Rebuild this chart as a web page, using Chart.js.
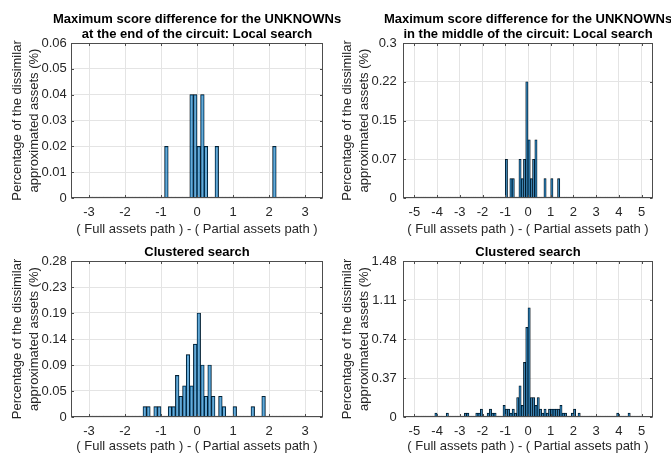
<!DOCTYPE html>
<html>
<head>
<meta charset="utf-8">
<script src="https://cdn.jsdelivr.net/npm/chart.js@4.4.0/dist/chart.umd.min.js"></script>
<style>
  html, body { margin: 0; padding: 0; background: #fff; width: 671px; height: 454px; overflow: hidden; position: relative; }
  canvas { position: absolute; }
</style>
</head>
<body>
<canvas id="end-local" width="394" height="237" style="left:0;top:0;width:394px;height:237px"></canvas>
<canvas id="mid-local" width="386" height="237" style="left:335px;top:0;width:386px;height:237px"></canvas>
<canvas id="end-cluster" width="394" height="227" style="left:0;top:227px;width:394px;height:227px"></canvas>
<canvas id="mid-cluster" width="386" height="227" style="left:335px;top:227px;width:386px;height:227px"></canvas>
<script>
// ========================================
// Data
// bins are 0.1 wide, listed by their left edge; empty bins are 0
// ========================================
const BIN_WIDTH = 0.1;

// top left: end of the circuit, local search
const endLocalRange = [-3, 3];
const endLocalBins = [-0.9, -0.2, -0.1, 0.0, 0.1, 0.2, 0.5, 2.1];
const endLocalPct  = [0.02, 0.04, 0.04, 0.02, 0.04, 0.02, 0.02, 0.02];
const endLocalYTicks  = [0, 0.01, 0.02, 0.03, 0.04, 0.05, 0.06];
const endLocalYLabels = ['0', '0.01', '0.02', '0.03', '0.04', '0.05', '0.06'];

// top right: middle of the circuit, local search
const midLocalRange = [-5, 5];
const midLocalBins = [-1.0, -0.8, -0.7, -0.4, -0.3, -0.2, -0.1, 0.0, 0.1, 0.2, 0.3, 0.7, 1.0, 1.3];
const midLocalPct  = [0.075, 0.0375, 0.0375, 0.075, 0.0375, 0.075, 0.225, 0.1125, 0.0375, 0.075, 0.1125, 0.0375, 0.0375, 0.0375];
const midLocalYTicks  = [0, 0.075, 0.15, 0.225, 0.3];
const midLocalYLabels = ['0', '0.07', '0.15', '0.22', '0.3'];

// bottom left: end of the circuit, clustered search
const endClusterRange = [-3, 3];
const endClusterBins = [-1.5, -1.4, -1.2, -1.1, -0.8, -0.7, -0.6, -0.5, -0.4, -0.3, -0.2, -0.1,
                        0.0, 0.1, 0.2, 0.3, 0.4, 0.6, 0.7, 1.0, 1.5, 1.8];
const endClusterPct  = [0.0187, 0.0187, 0.0187, 0.0187, 0.0187, 0.0187, 0.0747, 0.0373, 0.056, 0.112, 0.056, 0.1307,
                        0.1867, 0.0933, 0.0373, 0.0933, 0.0373, 0.0373, 0.0187, 0.0187, 0.0187, 0.0373];
const endClusterYTicks  = [0, 0.0467, 0.0933, 0.14, 0.1867, 0.2333, 0.28];
const endClusterYLabels = ['0', '0.05', '0.09', '0.14', '0.19', '0.23', '0.28'];

// bottom right: middle of the circuit, clustered search
const midClusterRange = [-5, 5];
const midClusterBins = [-4.1, -3.6, -2.8, -2.7, -2.3, -2.2, -2.1, -1.8, -1.7, -1.6, -1.5,
                        -1.1, -1.0, -0.9, -0.8, -0.7, -0.6, -0.5, -0.4, -0.3, -0.2, -0.1,
                        0.0, 0.1, 0.2, 0.3, 0.4, 0.5, 0.6, 0.7, 0.8, 0.9, 1.0,
                        1.1, 1.2, 1.3, 1.4, 1.5, 1.6, 1.9, 2.0, 2.2, 3.9, 4.4];
const midClusterPct  = [0.037, 0.037, 0.037, 0.037, 0.037, 0.037, 0.074, 0.037, 0.074, 0.037, 0.037,
                        0.111, 0.074, 0.074, 0.037, 0.074, 0.037, 0.185, 0.296, 0.111, 0.518, 0.851,
                        1.036, 0.185, 0.185, 0.111, 0.185, 0.074, 0.037, 0.074, 0.037, 0.074, 0.074,
                        0.074, 0.074, 0.074, 0.111, 0.037, 0.037, 0.037, 0.074, 0.037, 0.037, 0.037];
const midClusterYTicks  = [0, 0.37, 0.74, 1.11, 1.48];
const midClusterYLabels = ['0', '0.37', '0.74', '1.11', '1.48'];

const xTicksNarrow = [-3, -2, -1, 0, 1, 2, 3];
const xTicksWide   = [-5, -4, -3, -2, -1, 0, 1, 2, 3, 4, 5];

const xTitle = '( Full assets path ) - ( Partial assets path )';
const yTitle = ['Percentage of the dissimilar', 'approximated assets (%)'];

// ========================================
// Styling
// ========================================
Chart.defaults.font.family = "'Liberation Sans', Arial, Helvetica, sans-serif";
Chart.defaults.font.size = 13;

const colors = {
    barFill: 'rgba(0, 114, 189, 0.6)',
    barEdge: '#000000',
    grid: '#e4e4e4',
    axis: '#4d4d4d',
    text: '#262626',
    title: '#000000'
};

// build the full table of bins (empty ones as 0) from the listed ones
function histogram(range, bins, pct) {
    const n = Math.round((range[1] - range[0]) / BIN_WIDTH);
    const rows = [];
    for (let i = 0; i < n; i++) {
        const left = range[0] + i * BIN_WIDTH;
        const j = bins.findIndex(b => Math.abs(b - left) < 1e-6);
        rows.push({ x: left + BIN_WIDTH / 2, y: j >= 0 ? pct[j] : 0 });
    }
    return rows;
}

// box round the axes with small inward tick marks (matlab style)
const boxPlugin = {
    id: 'axesBox',
    afterDatasetsDraw(chart) {
        const { ctx, chartArea: a, scales } = chart;
        const L = Math.round(a.left) + 0.5, R = Math.round(a.right) - 0.5;
        const T = Math.round(a.top) + 0.5, B = Math.round(a.bottom) - 0.5;
        const len = 2.5;
        ctx.save();
        ctx.strokeStyle = colors.axis;
        ctx.lineWidth = 1;
        ctx.strokeRect(L, T, R - L, B - T);
        ctx.beginPath();
        scales.x.ticks.forEach(t => {
            const px = Math.round(scales.x.getPixelForValue(t.value)) + 0.5;
            ctx.moveTo(px, B); ctx.lineTo(px, B - len);
            ctx.moveTo(px, T); ctx.lineTo(px, T + len);
        });
        scales.y.ticks.forEach(t => {
            const py = Math.round(scales.y.getPixelForValue(t.value)) + 0.5;
            ctx.moveTo(L, py); ctx.lineTo(L + len, py);
            ctx.moveTo(R, py); ctx.lineTo(R - len, py);
        });
        ctx.stroke();
        ctx.restore();
    }
};

function createPanel(id, p) {
    const ctx = document.getElementById(id);
    return new Chart(ctx, {
        type: 'bar',
        data: {
            datasets: [{
                data: histogram(p.range, p.bins, p.pct),
                backgroundColor: colors.barFill,
                borderColor: colors.barEdge,
                borderWidth: 0.5,
                borderSkipped: 'start',
                minBarLength: 1,
                barPercentage: 1,
                categoryPercentage: 1
            }]
        },
        options: {
            responsive: false,
            animation: false,
            events: [],
            layout: { padding: 0 },
            plugins: {
                legend: { display: false },
                tooltip: { enabled: false },
                title: {
                    display: true,
                    text: p.title,
                    color: colors.title,
                    font: { size: 13, weight: 'bold', lineHeight: 15 / 13 },
                    padding: { top: p.titleTop, bottom: p.titleBottom }
                }
            },
            scales: {
                x: {
                    type: 'linear',
                    min: -p.xLimit,
                    max: p.xLimit,
                    offset: false,
                    afterBuildTicks: (s) => { s.ticks = p.xTicks.map(v => ({ value: v })); },
                    afterFit: (s) => { s.height = p.xHeight; },
                    grid: { color: colors.grid, drawTicks: false, offset: false },
                    border: { display: false },
                    ticks: { color: colors.text, padding: 6.5, maxRotation: 0, autoSkip: false, callback: (v) => String(v) },
                    title: { display: true, text: xTitle, color: colors.text, padding: 0 }
                },
                y: {
                    type: 'linear',
                    min: 0,
                    max: p.yTicks[p.yTicks.length - 1],
                    afterBuildTicks: (s) => { s.ticks = p.yTicks.map(v => ({ value: v })); },
                    afterFit: (s) => { s.width = p.yWidth; },
                    grid: { color: colors.grid, drawTicks: false },
                    border: { display: false },
                    ticks: { color: colors.text, padding: p.yTickPad, autoSkip: false, callback: (v, i) => p.yLabels[i] },
                    title: {
                        display: true,
                        text: yTitle,
                        color: colors.text,
                        font: { size: 13, lineHeight: 17.7 / 13 },
                        padding: { top: p.yTitlePad, bottom: 0 }
                    }
                },
                // spacer on the right so the title stays centred on the axes
                y2: {
                    type: 'linear',
                    position: 'right',
                    display: true,
                    afterFit: (s) => { s.width = p.rightWidth; },
                    grid: { display: false, drawOnChartArea: false },
                    border: { display: false },
                    ticks: { display: false }
                }
            }
        },
        plugins: [boxPlugin]
    });
}

const leftGeom  = { xLimit: 3.5, xTicks: xTicksNarrow, yWidth: 71, rightWidth: 71, yTickPad: 4.3, yTitlePad: 8.3 };
const rightGeom = { xLimit: 5.5, xTicks: xTicksWide,   yWidth: 68, rightWidth: 68, yTickPad: 6.3, yTitlePad: 3.3 };
const topGeom    = { titleTop: 12, titleBottom: 1, xHeight: 39 };
const bottomGeom = { titleTop: 18, titleBottom: 1, xHeight: 37 };

createPanel('end-local', Object.assign({}, leftGeom, topGeom, {
    title: ['Maximum score difference for the UNKNOWNs', 'at the end of the circuit: Local search'],
    range: endLocalRange, bins: endLocalBins, pct: endLocalPct,
    yTicks: endLocalYTicks, yLabels: endLocalYLabels
}));

createPanel('mid-local', Object.assign({}, rightGeom, topGeom, {
    title: ['Maximum score difference for the UNKNOWNs', 'in the middle of the circuit: Local search'],
    range: midLocalRange, bins: midLocalBins, pct: midLocalPct,
    yTicks: midLocalYTicks, yLabels: midLocalYLabels
}));

createPanel('end-cluster', Object.assign({}, leftGeom, bottomGeom, {
    title: 'Clustered search',
    range: endClusterRange, bins: endClusterBins, pct: endClusterPct,
    yTicks: endClusterYTicks, yLabels: endClusterYLabels
}));

createPanel('mid-cluster', Object.assign({}, rightGeom, bottomGeom, {
    title: 'Clustered search',
    range: midClusterRange, bins: midClusterBins, pct: midClusterPct,
    yTicks: midClusterYTicks, yLabels: midClusterYLabels
}));
</script>
</body>
</html>
